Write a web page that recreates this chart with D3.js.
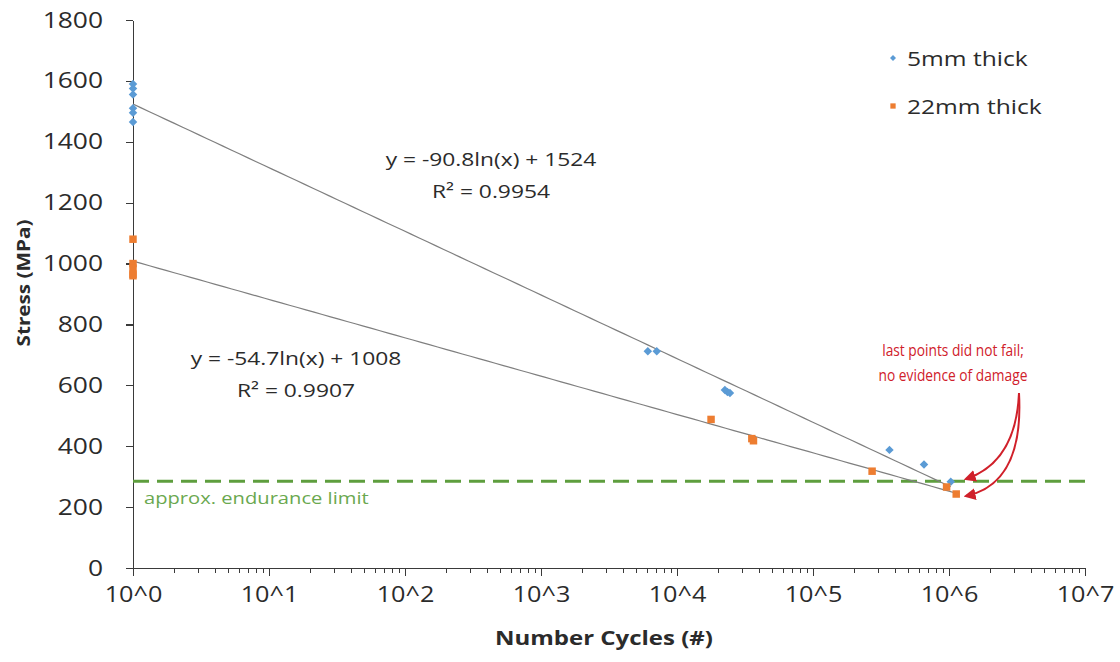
<!DOCTYPE html>
<html lang="en">
<head>
<meta charset="UTF-8">
<title>Stress vs Number Cycles</title>
<script src="https://d3js.org/d3.v7.min.js"></script>
<style>
    * { margin: 0; padding: 0; box-sizing: border-box; }
    html, body { width: 1120px; height: 662px; background: #fff; overflow: hidden; }
    svg text { font-family: "Open Sans", sans-serif; fill: #2b2b2b; }
    /* the source font is much wider than Open Sans, so stretch text horizontally */
    .sx, .sxl, .sxr { transform-box: fill-box; transform: scaleX(1.2); }
    .sx { transform-origin: center; }
    .sxl { transform-origin: left center; }
    .sxr { transform-origin: right center; }
    .narrow { transform-box: fill-box; transform-origin: center; transform: scaleX(0.86); }
    .axis path, .axis line { stroke: #3a3a3a; stroke-width: 1.3; shape-rendering: crispEdges; }
    .trend { fill: none; stroke: #7f7f7f; stroke-width: 1.2; }
</style>
</head>
<body>
<svg id="chart" width="1120" height="662"></svg>
<script>
    // ---- data ----
    const cycles5 = [1, 1, 1, 1, 1, 1, 6100, 7100, 22500, 23500, 24500, 365000, 655000, 1030000];
    const stress5 = [1590, 1575, 1555, 1510, 1495, 1465, 712, 712, 585, 578, 575, 388, 340, 283];
    const cycles22 = [1, 1, 1, 1, 1, 17800, 35500, 36500, 272000, 960000, 1130000];
    const stress22 = [1080, 1000, 985, 965, 960, 488, 425, 418, 318, 266, 243];

    const fit5 = { a: -90.8, b: 1524, label: "y = -90.8ln(x) + 1524", r2: "R\u00B2 = 0.9954" };
    const fit22 = { a: -54.7, b: 1008, label: "y = -54.7ln(x) + 1008", r2: "R\u00B2 = 0.9907" };
    const enduranceLimit = 285;

    const yTicks = [0, 200, 400, 600, 800, 1000, 1200, 1400, 1600, 1800];
    const xTicks = [1e0, 1e1, 1e2, 1e3, 1e4, 1e5, 1e6, 1e7];
    const seriesNames = ["5mm thick", "22mm thick"];
    const colors = ["#5b9bd5", "#ed7d31"];

    const svg = d3.select("#chart");

    const x = d3.scaleLog().domain([1, 1e7]).range([133, 1085]);
    const y = d3.scaleLinear().domain([0, 1800]).range([568, 20]);

    // minor ticks 2..9 in every decade
    const minorTicks = [];
    for (let d = 0; d < 7; d++) {
        for (let k = 2; k < 10; k++) minorTicks.push(k * Math.pow(10, d));
    }

    // ---- axes ----
    svg.append("g")
        .attr("class", "axis")
        .attr("transform", `translate(0,${y(0)})`)
        .call(d3.axisBottom(x).tickValues(minorTicks).tickSize(5).tickFormat(""))
        .call(g => g.select(".domain").remove());

    const xAxis = svg.append("g")
        .attr("class", "axis")
        .attr("transform", `translate(0,${y(0)})`)
        .call(d3.axisBottom(x).tickValues(xTicks).tickSizeInner(8).tickSizeOuter(0).tickPadding(8)
            .tickFormat(d => "10^" + Math.round(Math.log10(d))));
    xAxis.selectAll("text").attr("class", "sx").style("font-size", "21px").attr("dy", "0.85em");

    const yAxis = svg.append("g")
        .attr("class", "axis")
        .attr("transform", `translate(${x(1)},0)`)
        .call(d3.axisLeft(y).tickValues(yTicks).tickFormat(d3.format("d"))
            .tickSizeInner(7).tickSizeOuter(0).tickPadding(23));
    yAxis.selectAll("text").attr("class", "sxr").style("font-size", "22px");

    svg.append("text")
        .attr("class", "sx")
        .attr("x", 604).attr("y", 645)
        .attr("text-anchor", "middle")
        .style("font-size", "20px").style("font-weight", "bold")
        .text("Number Cycles (#)");

    svg.append("text")
        .attr("x", 0).attr("y", 0)
        .attr("text-anchor", "middle")
        .attr("dominant-baseline", "central")
        .attr("transform", "translate(23,283) rotate(-90) scale(1.15,1)")
        .style("font-size", "18px").style("font-weight", "bold")
        .text("Stress (MPa)");

    // ---- endurance limit ----
    svg.append("line")
        .attr("x1", x(1)).attr("x2", x(1e7))
        .attr("y1", y(enduranceLimit)).attr("y2", y(enduranceLimit))
        .attr("stroke", "#5e9e3e").attr("stroke-width", 3)
        .attr("stroke-dasharray", "16,8");

    svg.append("text")
        .attr("class", "sxl")
        .attr("x", 144).attr("y", 504)
        .style("font-size", "16.8px").style("fill", "#6aa84f")
        .text("approx. endurance limit");

    // ---- trend lines ----
    function trend(fit, xmax) {
        const pts = d3.range(0, 101).map(i => {
            const cx = Math.pow(10, Math.log10(xmax) * i / 100);
            return [x(cx), y(fit.a * Math.log(cx) + fit.b)];
        });
        svg.append("path").attr("class", "trend").attr("d", d3.line()(pts));
    }
    trend(fit5, d3.max(cycles5));
    trend(fit22, d3.max(cycles22));

    // ---- points ----
    svg.append("g").selectAll("path")
        .data(cycles5.map((c, i) => [c, stress5[i]]))
        .join("path")
        .attr("d", d3.symbol().type(d3.symbolSquare).size(36))
        .attr("transform", d => `translate(${x(d[0])},${y(d[1])}) rotate(45)`)
        .attr("fill", colors[0]);

    svg.append("g").selectAll("path")
        .data(cycles22.map((c, i) => [c, stress22[i]]))
        .join("path")
        .attr("d", d3.symbol().type(d3.symbolSquare).size(56))
        .attr("transform", d => `translate(${x(d[0])},${y(d[1])})`)
        .attr("fill", colors[1]);

    // ---- equations ----
    function eqLabel(fit, cx, cy) {
        svg.append("text").attr("class", "sx")
            .attr("x", cx).attr("y", cy)
            .attr("text-anchor", "middle")
            .style("font-size", "19px")
            .text(fit.label);
        svg.append("text").attr("class", "sx")
            .attr("x", cx).attr("y", cy + 32)
            .attr("text-anchor", "middle")
            .style("font-size", "19px")
            .text(fit.r2);
    }
    eqLabel(fit5, 491, 166);
    eqLabel(fit22, 296, 365);

    // ---- legend ----
    const legend = svg.append("g").attr("transform", "translate(893,58)");
    seriesNames.forEach((name, i) => {
        const row = legend.append("g").attr("transform", `translate(0,${i * 48})`);
        row.append("path")
            .attr("d", d3.symbol().type(d3.symbolSquare).size(i === 0 ? 18 : 28)())
            .attr("transform", i === 0 ? "rotate(45)" : null)
            .attr("fill", colors[i]);
        row.append("text").attr("class", "sxl")
            .attr("x", 14).attr("y", 0)
            .attr("dominant-baseline", "central")
            .style("font-size", "20.5px")
            .text(name);
    });

    // ---- annotation ----
    const red = "#d0202a";
    svg.append("text").attr("class", "narrow")
        .attr("x", 953).attr("y", 356)
        .attr("text-anchor", "middle")
        .style("font-size", "16px").style("fill", red)
        .text("last points did not fail;");
    svg.append("text").attr("class", "narrow")
        .attr("x", 953).attr("y", 381)
        .attr("text-anchor", "middle")
        .style("font-size", "16px").style("fill", red)
        .text("no evidence of damage");

    svg.append("defs").append("marker")
        .attr("id", "arrow")
        .attr("viewBox", "0 0 10 10")
        .attr("refX", 8).attr("refY", 5)
        .attr("markerWidth", 6).attr("markerHeight", 6)
        .attr("orient", "auto")
        .append("path").attr("d", "M0,0 L10,5 L0,10 Z").attr("fill", red);

    svg.append("path")
        .attr("d", "M1019,393 Q1016,462 966,479")
        .attr("fill", "none").attr("stroke", red).attr("stroke-width", 2)
        .attr("marker-end", "url(#arrow)");
    svg.append("path")
        .attr("d", "M1019,393 Q1024,484 966,496")
        .attr("fill", "none").attr("stroke", red).attr("stroke-width", 2)
        .attr("marker-end", "url(#arrow)");
</script>
</body>
</html>
